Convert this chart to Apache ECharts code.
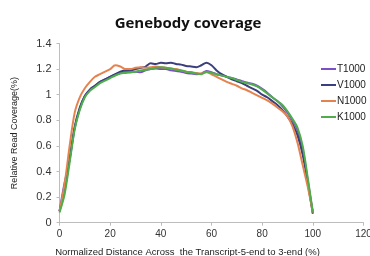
<!DOCTYPE html>
<html>
<head>
<meta charset="utf-8">
<script src="https://cdn.jsdelivr.net/npm/echarts@6/dist/echarts.min.js"></script>
<style>
  html, body { margin: 0; padding: 0; background: #fff; }
  #main { width: 370px; height: 256px; }
</style>
</head>
<body>
<div id="main"></div>
<script>
// normalized distance (%) along the transcript
var distance = [0, 2, 4, 6, 8, 10, 12, 14, 16, 18, 20, 22, 24, 26, 28, 30, 32, 34, 36, 38, 40,
  42, 44, 46, 48, 50, 52, 54, 56, 58, 60, 62, 64, 66, 68, 70, 72, 74, 76, 78, 80,
  82, 84, 86, 88, 90, 92, 94, 96, 98, 100];

var t1000 = [0.09, 0.31, 0.49, 0.74, 0.89, 0.99, 1.04, 1.07, 1.1, 1.12, 1.14, 1.155, 1.17, 1.175, 1.175, 1.18, 1.175, 1.19, 1.2, 1.205, 1.2,
  1.2, 1.19, 1.185, 1.18, 1.17, 1.165, 1.16, 1.165, 1.185, 1.175, 1.16, 1.15, 1.14, 1.13, 1.12, 1.105, 1.095, 1.085, 1.07, 1.045,
  1.015, 0.98, 0.95, 0.91, 0.86, 0.8, 0.72, 0.57, 0.33, 0.08];

var v1000 = [0.09, 0.25, 0.5, 0.75, 0.9, 0.99, 1.04, 1.07, 1.1, 1.12, 1.14, 1.16, 1.18, 1.19, 1.19, 1.2, 1.21, 1.22, 1.245, 1.24, 1.25,
  1.245, 1.25, 1.24, 1.235, 1.225, 1.22, 1.215, 1.23, 1.25, 1.23, 1.19, 1.16, 1.14, 1.12, 1.105, 1.09, 1.07, 1.05, 1.03, 1.0,
  0.98, 0.95, 0.92, 0.88, 0.83, 0.77, 0.68, 0.53, 0.31, 0.07];

var n1000 = [0.09, 0.3, 0.6, 0.86, 0.98, 1.05, 1.1, 1.14, 1.16, 1.18, 1.2, 1.23, 1.22, 1.2, 1.2, 1.21, 1.215, 1.21, 1.215, 1.22, 1.215,
  1.21, 1.205, 1.2, 1.19, 1.18, 1.175, 1.17, 1.165, 1.175, 1.16, 1.14, 1.12, 1.1, 1.085, 1.07, 1.05, 1.035, 1.015, 0.995, 0.975,
  0.955, 0.93, 0.9, 0.87, 0.83, 0.75, 0.62, 0.45, 0.28, 0.08];

var k1000 = [0.08, 0.22, 0.47, 0.73, 0.88, 0.98, 1.03, 1.06, 1.09, 1.11, 1.13, 1.15, 1.165, 1.17, 1.175, 1.18, 1.19, 1.195, 1.2, 1.21, 1.215,
  1.21, 1.205, 1.195, 1.19, 1.18, 1.175, 1.165, 1.16, 1.18, 1.17, 1.16, 1.15, 1.14, 1.13, 1.115, 1.1, 1.09, 1.08, 1.065, 1.04,
  1.01, 0.98, 0.95, 0.92, 0.87, 0.81, 0.74, 0.6, 0.35, 0.08];

var samples = ["T1000", "V1000", "N1000", "K1000"];
var colors = ["#7d4fc6", "#3b3f7c", "#e5834f", "#4fae4b"];
var values = [t1000, v1000, n1000, k1000];

function pairs(arr) {
  return distance.map(function (d, i) { return [d, arr[i]]; });
}

var myChart = echarts.init(document.getElementById("main"));
myChart.setOption({
  animation: false,
  title: {
    text: "Genebody coverage",
    left: 183,
    textAlign: "center",
    top: 11,
    textStyle: { fontFamily: "Open Sans", fontWeight: "bold", fontSize: 15, color: "#111" }
  },
  legend: {
    orient: "vertical",
    left: 316,
    top: 58,
    icon: "rect",
    itemWidth: 15,
    itemHeight: 2,
    itemGap: 4,
    textStyle: { fontFamily: "Liberation Sans", fontSize: 10, color: "#222", padding: [0, 0, 0, -4], lineHeight: 12 },
    data: samples
  },
  grid: { left: 59.5, right: 6.5, top: 43.5, bottom: 33.3, outerBoundsMode: "none", containLabel: false },
  xAxis: {
    type: "value",
    min: 0,
    max: 120,
    interval: 20,
    name: "Normalized Distance Across  the Transcript-5-end to 3-end (%)",
    nameLocation: "middle",
    nameGap: 25,
    nameTextStyle: { fontFamily: "Liberation Sans", fontSize: 9.5, color: "#222", padding: [0, 48, 0, 0] },
    axisLine: { lineStyle: { color: "#bdbdbd" } },
    axisTick: { show: true, length: 3, lineStyle: { color: "#bdbdbd" } },
    axisLabel: { fontFamily: "Liberation Sans", fontSize: 10, color: "#333", margin: 7 },
    splitLine: { show: false }
  },
  yAxis: {
    type: "value",
    min: 0,
    max: 1.4,
    interval: 0.2,
    name: "Relative Read Coverage(%)",
    nameLocation: "middle",
    nameGap: 40,
    nameTextStyle: { fontFamily: "Liberation Sans", fontSize: 9, color: "#222" },
    axisLine: { show: true, lineStyle: { color: "#bdbdbd" } },
    axisTick: { show: true, length: 3, lineStyle: { color: "#bdbdbd" } },
    axisLabel: { fontFamily: "Liberation Sans", fontSize: 11, color: "#333", margin: 8 },
    splitLine: { show: false }
  },
  series: samples.map(function (name, i) {
    return {
      name: name,
      type: "line",
      data: pairs(values[i]),
      smooth: 0.3,
      showSymbol: false,
      lineStyle: { width: 2, color: colors[i] },
      itemStyle: { color: colors[i] }
    };
  })
});
</script>
</body>
</html>
